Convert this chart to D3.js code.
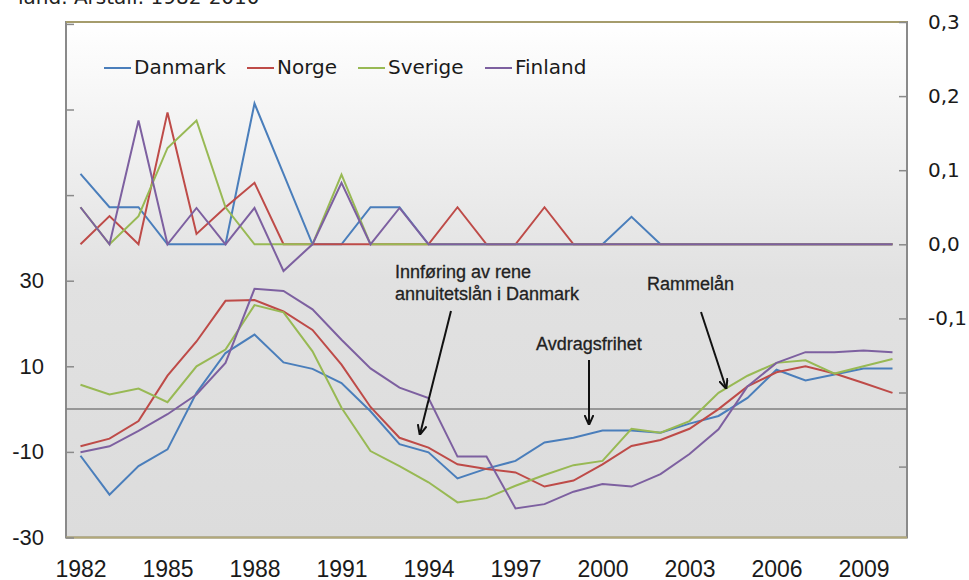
<!DOCTYPE html>
<html lang="no">
	<head>
		<meta charset="utf-8">
		<title>Nye lånetyper og boligpriser</title>
		<script type="text/javascript" src="https://cdnjs.cloudflare.com/ajax/libs/d3/7.8.5/d3.min.js"></script>
		<style type="text/css">
			body { margin: 0; background: #fff; }
			svg { display: block; }
		</style>
	</head>
	<body>
		<script type="text/javascript">
			var years = [1982,1983,1984,1985,1986,1987,1988,1989,1990,1991,1992,1993,1994,1995,1996,
				1997,1998,1999,2000,2001,2002,2003,2004,2005,2006,2007,2008,2009,2010];
			var yearLabels = [1982,1985,1988,1991,1994,1997,2000,2003,2006,2009];
			var names = ["Danmark","Norge","Sverige","Finland"];
			var colors = ["#4A7EBB","#BE4B48","#98B954","#7D60A0"];

			// venstre akse (nedre kurver)
			var danmark = [-10.9,-20,-13.3,-9.4,3.8,13.1,17.4,10.9,9.4,6.1,-0.5,-8.2,-10.1,-16.2,-13.9,
				-12.1,-7.8,-6.7,-5,-5,-5.5,-3.4,-1.6,2.6,9.2,6.7,8.1,9.5,9.5];
			var norge = [-8.7,-6.9,-2.8,7.8,15.8,25.3,25.5,22.8,18.5,10.4,0.5,-6.7,-9,-12.9,-14,
				-14.8,-18.1,-16.7,-12.9,-8.6,-7.2,-4.6,0,5.3,8.6,10,8.3,6.1,3.8];
			var sverige = [5.7,3.4,4.8,1.6,10,13.9,24.3,22.6,13.5,0.3,-9.8,-13.3,-17.1,-21.8,-20.8,
				-17.9,-15.4,-13.1,-12.1,-4.6,-5.5,-2.8,3.8,7.8,10.8,11.4,8.3,10,11.7];
			var finland = [-10.1,-8.7,-5.1,-1.2,3.4,10.8,28.1,27.6,23.3,16.2,9.5,5,2.6,-11.1,-11.1,
				-23.2,-22.2,-19.3,-17.5,-18.1,-15.2,-10.5,-4.7,5.3,10.8,13.3,13.3,13.7,13.3];

			// høyre akse (øvre kurver)
			var danmarkTop = [0.095,0.05,0.05,0,0,0,0.19,0.095,0,0,0.05,0.05,0,0,0,
				0,0,0,0,0.037,0,0,0,0,0,0,0,0,0];
			var norgeTop = [0,0.038,0,0.178,0.014,0.05,0.083,0,0,0,0,0,0,0.05,0,
				0,0.05,0,0,0,0,0,0,0,0,0,0,0,0];
			var sverigeTop = [0.05,0,0.038,0.13,0.167,0.05,0,0,0,0.094,0,0,0,0,0,
				0,0,0,0,0,0,0,0,0,0,0,0,0,0];
			var finlandTop = [0.05,0,0.167,0,0.049,0,0.049,-0.036,0,0.083,0,0.049,0,0,0,
				0,0,0,0,0,0,0,0,0,0,0,0,0,0];

			var leftTicks = [-30,-10,10,30,50,70,90];
			var leftLabels = [-30,-10,10,30];
			var rightTicks = [0.3,0.2,0.1,0,-0.1,-0.2,-0.3];
			var rightLabels = [0.3,0.2,0.1,0,-0.1];

			var w = 969;
			var h = 580;
			var plotL = 66, plotR = 907, plotT = 22, plotB = 537.5;

			var svg = d3.select("body")
						.append("svg")
						.attr("width",w)
						.attr("height",h);

			var defs = svg.append("defs");
			var grad = defs.append("linearGradient")
				.attr("id","bg")
				.attr("x1",0).attr("y1",0).attr("x2",0).attr("y2",1);
			grad.append("stop").attr("offset","0%").attr("stop-color","#ffffff");
			grad.append("stop").attr("offset","50%").attr("stop-color","#e1e1e1");
			grad.append("stop").attr("offset","100%").attr("stop-color","#dcdcdc");

			defs.append("marker")
				.attr("id","arrow")
				.attr("viewBox","0 0 10 10")
				.attr("refX",9)
				.attr("refY",5)
				.attr("markerWidth",5)
				.attr("markerHeight",5)
				.attr("orient","auto")
				.append("path")
				.attr("d","M0,0.5 L10,5 L0,9.5")
				.attr("fill","none")
				.attr("stroke","#111")
				.attr("stroke-width",2);

			var x = d3.scalePoint()
				.domain(years)
				.range([plotL,plotR])
				.padding(0.5);
			var yL = d3.scaleLinear()
				.domain([-30,30])
				.range([plotB,280.7]);
			var yR = d3.scaleLinear()
				.domain([0,0.3])
				.range([244.3,plotT]);

			// tittel (delvis avskåret)
			svg.append("text")
				.attr("x",18)
				.attr("y",4)
				.attr("font-family","DejaVu Sans")
				.attr("font-size","20px")
				.attr("fill","#222")
				.text("land. Årstall: 1982-2010");

			svg.append("rect")
				.attr("x",plotL)
				.attr("y",plotT)
				.attr("width",plotR-plotL)
				.attr("height",plotB-plotT)
				.attr("fill","url(#bg)")
				.attr("stroke","#8a8a8a")
				.attr("stroke-width",2);
			svg.append("line")
				.attr("x1",plotL).attr("x2",plotR)
				.attr("y1",plotT).attr("y2",plotT)
				.attr("stroke","#a59c6c").attr("stroke-width",2);
			svg.append("line")
				.attr("x1",plotL).attr("x2",plotR)
				.attr("y1",plotB).attr("y2",plotB)
				.attr("stroke","#b3a978").attr("stroke-width",2);

			var axisL = d3.axisLeft(yL)
				.tickValues(leftTicks)
				.tickSize(-8)
				.tickPadding(22)
				.tickFormat(function(d) {
					return leftLabels.indexOf(d) >= 0 ? String(d) : "";
				});
			var gL = svg.append("g")
				.attr("transform","translate(" + plotL + ",0)")
				.call(axisL);

			var axisR = d3.axisRight(yR)
				.tickValues(rightTicks)
				.tickSize(-8)
				.tickPadding(21)
				.tickFormat(function(d) {
					return rightLabels.indexOf(d) >= 0 ? d.toFixed(1).replace(".",",") : "";
				});
			var gR = svg.append("g")
				.attr("transform","translate(" + plotR + ",0)")
				.call(axisR);

			var axisX = d3.axisBottom(x)
				.tickValues(yearLabels)
				.tickSize(0)
				.tickPadding(23);
			var gX = svg.append("g")
				.attr("transform","translate(0," + plotB + ")")
				.call(axisX);

			[gL,gR,gX].forEach(function(g) {
				g.select(".domain").remove();
				g.selectAll(".tick line").attr("stroke","#8a8a8a").attr("stroke-width",1.5);
				g.selectAll("text").attr("fill","#1a1a1a");
			});
			gL.selectAll("text").attr("font-family","Liberation Sans").attr("font-size","22px");
			gX.selectAll("text").attr("font-family","Liberation Sans").attr("font-size","23px");
			gR.selectAll("text").attr("font-family","DejaVu Sans").attr("font-size","20px");

			// nullinje
			svg.append("line")
				.attr("x1",plotL).attr("x2",plotR)
				.attr("y1",yL(0)).attr("y2",yL(0))
				.attr("stroke","#7f7f7f")
				.attr("stroke-width",1.5);

			var lower = [danmark,norge,sverige,finland];
			var upper = [danmarkTop,norgeTop,sverigeTop,finlandTop];

			var lineL = d3.line()
				.x(function(d,i) { return x(years[i]); })
				.y(function(d) { return yL(d); });
			var lineR = d3.line()
				.x(function(d,i) { return x(years[i]); })
				.y(function(d) { return yR(d); });

			svg.selectAll("path.lower")
				.data(lower)
				.enter()
				.append("path")
				.attr("class","lower")
				.attr("d",lineL)
				.attr("fill","none")
				.attr("stroke",function(d,i) { return colors[i]; })
				.attr("stroke-width",2);

			svg.selectAll("path.upper")
				.data(upper)
				.enter()
				.append("path")
				.attr("class","upper")
				.attr("d",lineR)
				.attr("fill","none")
				.attr("stroke",function(d,i) { return colors[i]; })
				.attr("stroke-width",2);

			// legende
			var legendX = [104,247,358,485];
			var legend = svg.selectAll("g.legend")
				.data(names)
				.enter()
				.append("g")
				.attr("class","legend")
				.attr("transform",function(d,i) { return "translate(" + legendX[i] + ",68)"; });
			legend.append("line")
				.attr("x1",0).attr("x2",27)
				.attr("y1",0).attr("y2",0)
				.attr("stroke",function(d,i) { return colors[i]; })
				.attr("stroke-width",2);
			legend.append("text")
				.attr("x",30)
				.attr("y",6)
				.attr("font-family","DejaVu Sans")
				.attr("font-size","20px")
				.attr("fill","#1a1a1a")
				.text(function(d) { return d; });

			// merknader
			var notes = [
				{ x: 395, y: 278, t: "Innføring av rene" },
				{ x: 395, y: 300, t: "annuitetslån i Danmark" },
				{ x: 536, y: 350, t: "Avdragsfrihet" },
				{ x: 647, y: 290, t: "Rammelån" }
			];
			svg.selectAll("text.note")
				.data(notes)
				.enter()
				.append("text")
				.attr("class","note")
				.attr("x",function(d) { return d.x; })
				.attr("y",function(d) { return d.y; })
				.attr("font-family","Liberation Sans")
				.attr("font-size","18px")
				.attr("fill","#222")
				.attr("stroke","#222")
				.attr("stroke-width",0.3)
				.text(function(d) { return d.t; });

			var arrows = [
				[451,311,420,434],
				[589,360,589,424],
				[701,312,726,388]
			];
			svg.selectAll("line.arrow")
				.data(arrows)
				.enter()
				.append("line")
				.attr("class","arrow")
				.attr("x1",function(d) { return d[0]; })
				.attr("y1",function(d) { return d[1]; })
				.attr("x2",function(d) { return d[2]; })
				.attr("y2",function(d) { return d[3]; })
				.attr("stroke","#111")
				.attr("stroke-width",2)
				.attr("marker-end","url(#arrow)");
		</script>
	</body>
</html>
